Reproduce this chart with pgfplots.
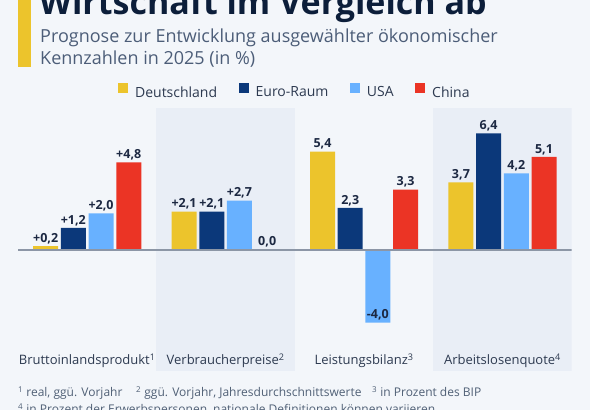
\documentclass[border=0pt]{standalone}
\usepackage{fontspec}
\setmainfont{Open Sans}
\usepackage{pgfplots}
\pgfplotsset{compat=1.18}

\definecolor{bg}{RGB}{243,246,250}
\definecolor{band}{RGB}{233,238,246}
\definecolor{cde}{RGB}{236,196,44}
\definecolor{ceu}{RGB}{11,56,122}
\definecolor{cus}{RGB}{104,177,255}
\definecolor{ccn}{RGB}{235,52,37}
\definecolor{titlecol}{RGB}{12,30,58}
\definecolor{subcol}{RGB}{76,93,120}
\definecolor{labcol}{RGB}{45,58,80}
\definecolor{valcol}{RGB}{28,40,66}
\definecolor{zerocol}{RGB}{140,150,166}
\definecolor{notecol}{RGB}{80,96,118}

\begin{document}
\begin{tikzpicture}[x=1pt,y=1pt]
\useasboundingbox (0,0) rectangle (590,410);
\clip (0,0) rectangle (590,410);
\fill[bg] (0,0) rectangle (590,410);

% header: accent bar, title and subtitle
\fill[cde] (17.5,343.3) rectangle (31,412);
\node[anchor=base west, inner sep=0, text=titlecol,
      font=\fontsize{34}{40}\selectfont\bfseries] at (39,395) {Wirtschaft im Vergleich ab};
\node[anchor=base west, inner sep=0, text=subcol,
      font=\fontsize{18}{22}\selectfont] at (40,367) {Prognose zur Entwicklung ausgewählter ökonomischer};
\node[anchor=base west, inner sep=0, text=subcol,
      font=\fontsize{18}{22}\selectfont] at (40,345) {Kennzahlen in 2025 (in \%)};

\begin{axis}[
  at={(18pt,39pt)}, anchor=south west,
  scale only axis, width=553.7pt, height=262.6pt,
  xmin=-0.5, xmax=3.5, ymin=-6.66, ymax=7.77,
  axis on top,
  axis line style={draw=none},
  ytick=\empty,
  xtick={0,1,2,3},
  xticklabels={Bruttoinlandsprodukt\textsuperscript{1},
               Verbraucherpreise\textsuperscript{2},
               Leistungsbilanz\textsuperscript{3},
               Arbeitslosenquote\textsuperscript{4}},
  xticklabel style={anchor=base, yshift=6.5pt, text=labcol,
                    font=\fontsize{13}{15}\selectfont},
  major tick length=0pt,
  tick style={draw=none},
  ybar, bar width=25pt,
  point meta=explicit symbolic,
  nodes near coords,
  nodes near coords style={font=\fontsize{12.5}{14}\selectfont\bfseries,
                           text=valcol, inner sep=2pt},
  legend style={at={(0.5,1.0625)}, anchor=center, draw=none, fill=none,
                font=\fontsize{14}{16}\selectfont, text=labcol,
                legend columns=4,
                /tikz/every odd column/.append style={column sep=5pt},
                /tikz/every even column/.append style={column sep=19.5pt}},
  legend image code/.code={\fill[#1] (0pt,-1pt) rectangle (10pt,9pt);},
]
% shaded bands behind the second and fourth category
\fill[band] (axis cs:0.5,-6.66) rectangle (axis cs:1.5,7.77);
\fill[band] (axis cs:2.5,-6.66) rectangle (axis cs:3.5,7.77);

\addplot[fill=cde, draw=none, bar shift=-41.55pt] table[meta=lab] {
x y lab
0 0.2 +0,2
1 2.1 +2,1
2 5.4 5,4
3 3.7 3,7
};
\addplot[fill=ceu, draw=none, bar shift=-13.85pt] table[meta=lab] {
x y lab
0 1.2 +1,2
1 2.1 +2,1
2 2.3 2,3
3 6.4 6,4
};
\addplot[fill=cus, draw=none, bar shift=13.85pt] table[meta=lab] {
x y lab
0 2.0 +2,0
1 2.7 +2,7
2 -4.0 -4,0
3 4.2 4,2
};
\addplot[fill=ccn, draw=none, bar shift=41.55pt] table[meta=lab] {
x y lab
0 4.8 +4,8
1 0.0 0,0
2 3.3 3,3
3 5.1 5,1
};
\legend{Deutschland, Euro-Raum, USA, China}

% zero line
\draw[zerocol, line width=1.7pt] (axis cs:-0.5,0) -- (axis cs:3.5,0);
\end{axis}

% footnotes
\begin{scope}[every node/.style={anchor=base west, inner sep=0, text=notecol,
                                  font=\fontsize{12}{14}\selectfont}]
\node at (18,13) {\textsuperscript{1} real, ggü. Vorjahr};
\node at (136,13) {\textsuperscript{2} ggü. Vorjahr, Jahresdurchschnittswerte};
\node at (372,13) {\textsuperscript{3} in Prozent des BIP};
\node at (18,-4) {\textsuperscript{4} in Prozent der Erwerbspersonen, nationale Definitionen können variieren};
\end{scope}
\end{tikzpicture}
\end{document}
